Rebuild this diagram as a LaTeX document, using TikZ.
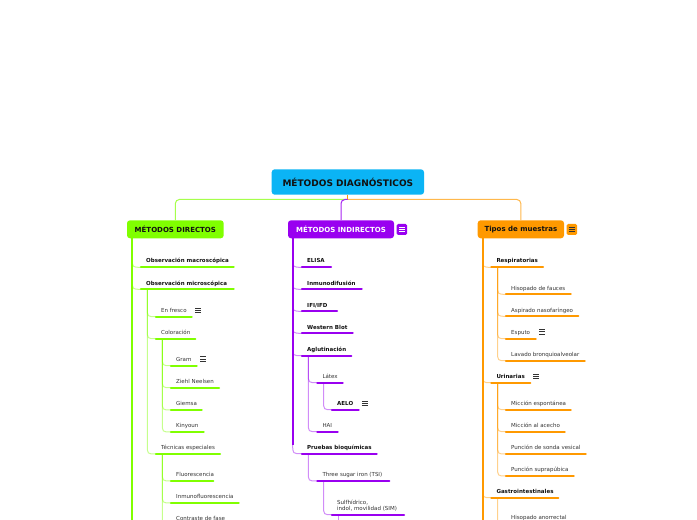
\documentclass[tikz,border=0pt]{standalone}
\usepackage{fontspec}
\setmainfont{DejaVu Sans}
\usetikzlibrary{calc}
\definecolor{cg}{HTML}{80FF00}
\definecolor{cp}{HTML}{9900F0}
\definecolor{co}{HTML}{FF9900}
\definecolor{croot}{HTML}{0BB4F5}
\definecolor{ctext}{HTML}{333333}
\definecolor{cbold}{HTML}{111111}
\tikzset{
  uline/.style={line width=2.2bp, line cap=round},
  conn/.style={line width=1bp, draw opacity=0.45},
  trunk/.style={line width=2bp},
  rootconn/.style={line width=1bp, rounded corners=4bp},
  leaftext/.style={inner sep=0pt, text=ctext, font=\fontsize{5.5bp}{6.2bp}\selectfont, align=left},
  boldtext/.style={inner sep=0pt, text=cbold, font=\bfseries\fontsize{5.5bp}{6.2bp}\selectfont},
  l1box/.style={rounded corners=3bp, minimum height=18bp, inner sep=0pt, font=\bfseries\fontsize{7bp}{8bp}\selectfont},
  menulines/.style={path picture={
    \foreach \f in {0.1,0.5,0.9}
      \draw[line width=0.8bp,#1] ($(path picture bounding box.north west)!\f!(path picture bounding box.south west)$) -- ($(path picture bounding box.north east)!\f!(path picture bounding box.south east)$);}},
  menuicon/.style={minimum width=6bp, minimum height=5.6bp, inner sep=0pt, menulines=#1},
  iconbox/.style={rounded corners=1.5bp, minimum width=10.3bp, minimum height=11bp, inner sep=0pt, path picture={
    \foreach \f in {0.3,0.5,0.7}
      \draw[line width=0.8bp,#1] ($(path picture bounding box.north west)!\f!(path picture bounding box.south west)+(2.2bp,0)$) -- ($(path picture bounding box.north east)!\f!(path picture bounding box.south east)+(-2.2bp,0)$);}},
}
\newcommand\mmleaf[7]{%
  \coordinate (#1) at (#2,#4);
  \coordinate (#1e) at (#3,#4);
  \coordinate (#1s) at ($(#1)+(6.3,0)$);
  \draw[uline,#5] (#1) -- (#1e);
  \node[#6,anchor=base west] (#1t) at ($(#1)+(5,-4.3)$) {#7};
}
\newcommand\mmconn[3]{%
  \draw[conn,#1] (#2) -- ($(#2 |- #3)+(0,-9)$) .. controls (#2 |- #3) .. (#3);
}
\begin{document}
\begin{tikzpicture}[x=1bp,y=-1bp]
\useasboundingbox (0,0) rectangle (697,520);
\fill[white] (0,0) rectangle (697,520);

% root and first level
\node[l1box, fill=croot, text=cbold, minimum width=152.3bp, minimum height=25.4bp, font=\bfseries\fontsize{9bp}{10bp}\selectfont] (root) at (347.85,182) {MÉTODOS DIAGNÓSTICOS};
\node[l1box, fill=cg, text=cbold, minimum width=96.7bp] (dir) at (175.35,229.3) {MÉTODOS DIRECTOS};
\node[l1box, fill=cp, text=white, minimum width=106bp] (ind) at (341,229.3) {MÉTODOS INDIRECTOS};
\node[l1box, fill=co, text=cbold, minimum width=86.3bp] (tip) at (520.85,229.3) {Tipos de muestras};
\node[iconbox=white, fill=cp] (indic) at (401.85,229.5) {};
\node[iconbox=ctext, fill=co] (tipic) at (571.85,229.5) {};

\coordinate (j) at ($(root.south)+(0,4.6)$);
\draw[rootconn, cg!70] (j) -| (dir.north);
\draw[rootconn, cp!85] (j) -| (ind.north);
\draw[rootconn, co!70] (j) -| (tip.north);
\draw[line width=1bp, co] (root.south) -- (j);

% ===== green branch =====
\coordinate (dirS) at (132.3,238.3);
\coordinate (dirE) at (132.3,525);
\draw[trunk,cg] (dirS) -- (dirE);
\mmleaf{omac}{141}{233.7}{267.3}{cg}{boldtext}{Observación macroscópica}
\mmleaf{omic}{141}{233.7}{289.3}{cg}{boldtext}{Observación microscópica}
\mmconn{cg}{dirS}{omac}
\mmconn{cg}{dirS}{omic}
\mmleaf{fres}{156}{191.7}{316.7}{cg}{leaftext}{En fresco}
\mmleaf{colo}{156}{195.3}{338.7}{cg}{leaftext}{Coloración}
\mmleaf{tecn}{156}{220}{454}{cg}{leaftext}{Técnicas especiales}
\mmconn{cg}{omics}{fres}
\mmconn{cg}{omics}{colo}
\mmconn{cg}{omics}{tecn}
\node[menuicon=ctext] (fresic) at (198,310.5) {};
\mmleaf{gram}{171}{196.7}{365.7}{cg}{leaftext}{Gram}
\mmleaf{zieh}{171}{219}{387.7}{cg}{leaftext}{Ziehl Neelsen}
\mmleaf{giem}{171}{201.7}{410}{cg}{leaftext}{Giemsa}
\mmleaf{kiny}{171}{203.7}{432}{cg}{leaftext}{Kinyoun}
\mmconn{cg}{colos}{gram}
\mmconn{cg}{colos}{zieh}
\mmconn{cg}{colos}{giem}
\mmconn{cg}{colos}{kiny}
\node[menuicon=ctext] (gramic) at (203,359) {};
\mmleaf{fluo}{171}{213.3}{481}{cg}{leaftext}{Fluorescencia}
\mmleaf{inmf}{171}{238.7}{503}{cg}{leaftext}{Inmunofluorescencia}
\mmleaf{cont}{171}{227}{525}{cg}{leaftext}{Contraste de fase}
\mmconn{cg}{tecns}{fluo}
\mmconn{cg}{tecns}{inmf}
\mmconn{cg}{tecns}{cont}

% ===== purple branch =====
\coordinate (indS) at (292.7,238.3);
\mmleaf{elis}{302}{331}{267.3}{cp}{boldtext}{ELISA}
\mmleaf{inmd}{302}{361.7}{289.3}{cp}{boldtext}{Inmunodifusión}
\mmleaf{ifi}{302}{337}{311.3}{cp}{boldtext}{IFI/IFD}
\mmleaf{west}{302}{352.7}{333.3}{cp}{boldtext}{Western Blot}
\mmleaf{aglu}{302}{351.3}{355.7}{cp}{boldtext}{Aglutinación}
\mmleaf{prue}{302}{376.7}{453.7}{cp}{boldtext}{Pruebas bioquímicas}
\draw[trunk,cp] (indS) -- ($(indS |- prue)+(0,-9)$);
\mmconn{cp}{indS}{elis}
\mmconn{cp}{indS}{inmd}
\mmconn{cp}{indS}{ifi}
\mmconn{cp}{indS}{west}
\mmconn{cp}{indS}{aglu}
\mmconn{cp}{indS}{prue}
\mmleaf{late}{317.3}{342.7}{382.7}{cp}{leaftext}{Látex}
\mmleaf{hai}{317.3}{337.7}{431.7}{cp}{leaftext}{HAI}
\mmconn{cp}{aglus}{late}
\mmconn{cp}{aglus}{hai}
\mmleaf{aelo}{332}{358.7}{409.7}{cp}{boldtext}{AELO}
\mmconn{cp}{lates}{aelo}
\node[menuicon=ctext] (aeloic) at (364.8,403.3) {};
\mmleaf{tsi}{317.3}{389.3}{481}{cp}{leaftext}{Three sugar iron (TSI)}
\mmconn{cp}{prues}{tsi}
\coordinate (sim) at (332,514.7);
\coordinate (sime) at (404,514.7);
\coordinate (sims) at (338.3,514.7);
\draw[uline,cp] (sim) -- (sime);
\node[leaftext,anchor=base west] (simt) at (337,510.4) {Sulfhídrico,\\indol, movilidad (SIM)};
\mmconn{cp}{tsis}{sim}
\coordinate (simE) at (338.3,525);
\draw[conn,cp] (sims) -- (simE);

% ===== orange branch =====
\coordinate (tipS) at (482.7,238.3);
\coordinate (tipE) at (482.7,525);
\draw[trunk,co] (tipS) -- (tipE);
\mmleaf{resp}{491.3}{543}{267.3}{co}{boldtext}{Respiratorias}
\mmleaf{urin}{491.3}{530.3}{382.7}{co}{boldtext}{Urinarias}
\mmleaf{gast}{491.3}{558.3}{497.7}{co}{boldtext}{Gastrointestinales}
\mmconn{co}{tipS}{resp}
\mmconn{co}{tipS}{urin}
\mmconn{co}{tipS}{gast}
\node[menuicon=ctext] (urinic) at (536,376.3) {};
\mmleaf{hfau}{506}{570.7}{294.3}{co}{leaftext}{Hisopado de fauces}
\mmleaf{asp}{506}{578.3}{316.3}{co}{leaftext}{Aspirado nasofaríngeo}
\mmleaf{espu}{506}{535.7}{338.7}{co}{leaftext}{Esputo}
\mmleaf{lava}{506}{584.7}{360.7}{co}{leaftext}{Lavado bronquioalveolar}
\mmconn{co}{resps}{hfau}
\mmconn{co}{resps}{asp}
\mmconn{co}{resps}{espu}
\mmconn{co}{resps}{lava}
\node[menuicon=ctext] (espuic) at (542,331.7) {};
\mmleaf{mesp}{506}{570.7}{409.7}{co}{leaftext}{Micción espontánea}
\mmleaf{mace}{506}{564.7}{431.7}{co}{leaftext}{Micción al acecho}
\mmleaf{psv}{506}{585.7}{454}{co}{leaftext}{Punción de sonda vesical}
\mmleaf{psup}{506}{573.7}{476}{co}{leaftext}{Punción suprapúbica}
\mmconn{co}{urins}{mesp}
\mmconn{co}{urins}{mace}
\mmconn{co}{urins}{psv}
\mmconn{co}{urins}{psup}
\mmleaf{hano}{506}{575}{524}{co}{leaftext}{Hisopado anorrectal}
\mmconn{co}{gasts}{hano}
\end{tikzpicture}
\end{document}
